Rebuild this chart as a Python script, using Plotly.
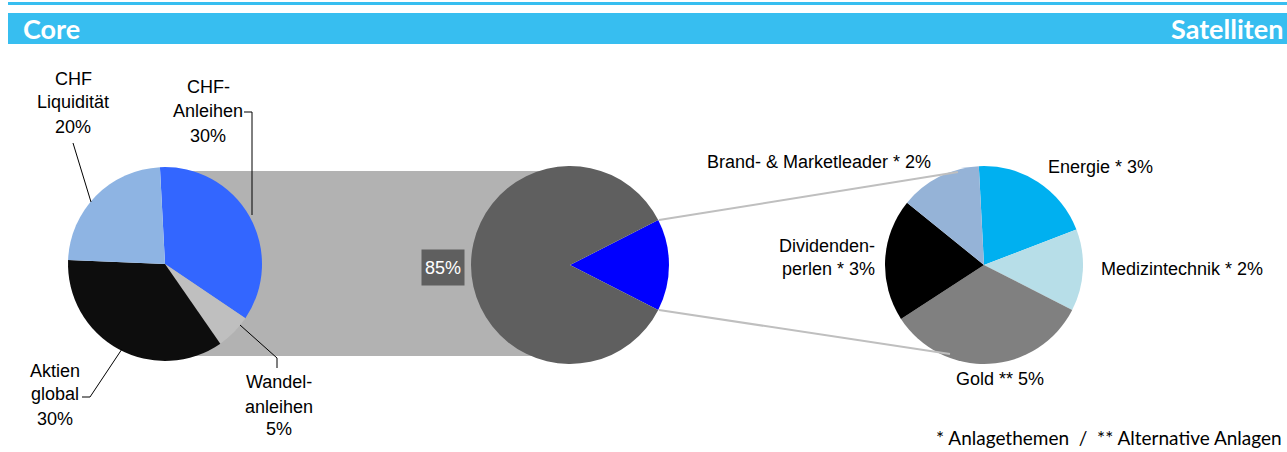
import plotly.graph_objects as go

W, H = 1287, 452
FONT = "Liberation Sans, Arial, sans-serif"
HEAD_FONT = "Lato, 'Open Sans', sans-serif"
FS = 18

# ---------------- data ----------------
core_names = [["CHF-", "Anleihen"], ["Wandel-", "anleihen"], ["Aktien", "global"], ["CHF", "Liquidität"]]
core_values = [30, 5, 30, 20]
core_colors = ["#3366FF", "#BFBFBF", "#0D0D0D", "#8EB4E3"]

split_names = ["Satelliten", "Core"]
split_values = [15, 85]
split_colors = ["#0000FF", "#5F5F5F"]

sat_names = ["Energie *", "Medizintechnik *", "Gold **", "Dividenden-|perlen *", "Brand- & Marketleader *"]
sat_values = [3, 2, 5, 3, 2]
sat_colors = ["#00B0F0", "#B7DEE8", "#808080", "#000000", "#95B3D7"]

header_left = "Core"
header_right = "Satelliten"
footnote = "* Anlagethemen  /  ** Alternative Anlagen"

# ---------------- helpers ----------------
def px(x):
    return x / W

def py(y):
    return 1 - y / H

def dom(cx, cy, r):
    return dict(x=[px(cx - r), px(cx + r)], y=[py(cy + r), py(cy - r)])

annotations = []
shapes = []

def text(s, x, baseline, anchor="center", size=FS, color="black", family=FONT):
    annotations.append(dict(
        text=s, x=px(x), y=py(baseline - 0.35 * size), xref="paper", yref="paper",
        xanchor=anchor, yanchor="middle", showarrow=False,
        font=dict(family=family, size=size, color=color)))

def poly(points, color="black", width=1):
    d = "M " + " L ".join(f"{px(x)},{py(y)}" for x, y in points)
    shapes.append(dict(type="path", path=d, xref="paper", yref="paper",
                       line=dict(color=color, width=width), layer="above"))

fig = go.Figure()

# header
shapes.append(dict(type="rect", xref="paper", yref="paper", x0=px(8), x1=1, y0=py(5), y1=py(2),
                   fillcolor="#37BEF0", line=dict(width=0), layer="below"))
shapes.append(dict(type="rect", xref="paper", yref="paper", x0=px(8), x1=1, y0=py(44), y1=py(13),
                   fillcolor="#37BEF0", line=dict(width=0), layer="below"))
text(f"<b>{header_left}</b>", 21, 38, anchor="left", size=27, color="white", family=HEAD_FONT)
text(f"<b>{header_right}</b>", 1285, 38, anchor="right", size=27, color="white", family=HEAD_FONT)

# gray connector band
shapes.append(dict(type="rect", xref="paper", yref="paper", x0=px(165), x1=px(570), y0=py(356), y1=py(171),
                   fillcolor="#B2B2B2", line=dict(width=0), layer="below"))

# pies
fig.add_trace(go.Pie(values=core_values, labels=[" ".join(n) for n in core_names],
                     marker=dict(colors=core_colors, line=dict(width=0)),
                     sort=False, direction="clockwise", rotation=-3, textinfo="none",
                     domain=dom(165, 264, 97), showlegend=False))
fig.add_trace(go.Pie(values=split_values, labels=split_names,
                     marker=dict(colors=split_colors, line=dict(width=0)),
                     sort=False, direction="clockwise", rotation=63, textinfo="none",
                     domain=dom(570, 265, 99), showlegend=False))
fig.add_trace(go.Pie(values=sat_values, labels=[n.replace("|", "") for n in sat_names],
                     marker=dict(colors=sat_colors, line=dict(width=0)),
                     sort=False, direction="clockwise", rotation=-3, textinfo="none",
                     domain=dom(984, 265, 99), showlegend=False))

# connector lines middle -> right pie
poly([(659, 220), (958, 172)], color="#BFBFBF", width=2)
poly([(659, 310), (950, 354)], color="#BFBFBF", width=2)

# core labels
core_pos = [(208, [93, 117, 142]), (279, [388, 413, 435]), (55, [377, 400, 425]), (73, [85, 108, 133])]
for names, v, (x, bls) in zip(core_names, core_values, core_pos):
    for s, b in zip(names + [f"{v}%"], bls):
        text(s, x, b)

# leader lines
poly([(73, 143), (91, 202)])
poly([(244, 112), (252, 112), (252, 215)])
poly([(82, 397), (90, 397), (122, 349)])
poly([(240, 325), (277, 358), (277, 368)])

# 85% box
annotations.append(dict(text=f"{split_values[1]}%", x=px(443), y=py(267), xref="paper", yref="paper",
                        xanchor="center", yanchor="middle", showarrow=False, bgcolor="#5F5F5F",
                        width=40, height=33, font=dict(family=FONT, size=FS, color="white")))

# satellite labels
sat_pos = [(1100, [173], "center"), (1182, [275], "center"), (1000, [385], "center"),
           (877, [252, 275], "right"), (819, [168], "center")]
for n, v, (x, bls, anc) in zip(sat_names, sat_values, sat_pos):
    lines = (n + f" {v}%").split("|")
    for s, b in zip(lines, bls):
        text(s, x, b, anchor=anc)

# footnote
text(footnote, 1284, 444, anchor="right", size=19, family=HEAD_FONT)

fig.update_layout(width=W, height=H, margin=dict(l=0, r=0, t=0, b=0),
                  paper_bgcolor="white", plot_bgcolor="white",
                  annotations=annotations, shapes=shapes)
fig.write_html("out.html", config={"displayModeBar": False},
               post_script="document.body.style.margin='0';document.body.style.overflow='hidden';")
